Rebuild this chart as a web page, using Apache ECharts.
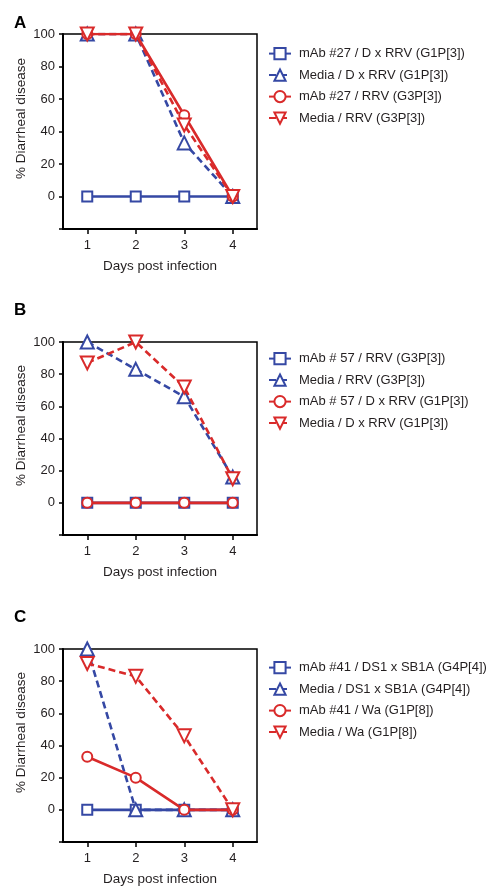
<!DOCTYPE html>
<html>
<head>
<meta charset="utf-8">
<script src="https://cdn.jsdelivr.net/npm/echarts@6/dist/echarts.min.js"></script>
<style>
html,body{margin:0;padding:0;background:#fff;}
#c{width:491px;height:893px;}
</style>
</head>
<body>
<div id="c"></div>
<script>
const days = ['1','2','3','4'];
const yTicks = [-20, 0, 20, 40, 60, 80, 100];

// Panel A
const namesA = ['mAb #27 / D x RRV (G1P[3])','Media / D x RRV (G1P[3])','mAb #27 / RRV (G3P[3])','Media / RRV (G3P[3])'];
const a_mab_dxrrv = [0, 0, 0, 0];
const a_media_dxrrv = [100, 100, 33, 0];
const a_mab_rrv = [100, 100, 50, 0];
const a_media_rrv = [100, 100, 44, 0];

// Panel B
const namesB = ['mAb # 57 / RRV (G3P[3])','Media / RRV (G3P[3])','mAb # 57 / D x RRV (G1P[3])','Media / D x RRV (G1P[3])'];
const b_mab_rrv = [0, 0, 0, 0];
const b_media_rrv = [100, 83, 66, 16];
const b_mab_dxrrv = [0, 0, 0, 0];
const b_media_dxrrv = [87, 100, 72, 15];

// Panel C
const namesC = ['mAb #41 / DS1 x SB1A (G4P[4])','Media / DS1 x SB1A (G4P[4])','mAb #41 / Wa (G1P[8])','Media / Wa (G1P[8])'];
const c_mab_ds1 = [0, 0, 0, 0];
const c_media_ds1 = [100, 0, 0, 0];
const c_mab_wa = [33, 20, 0, 0];
const c_media_wa = [91, 83, 46, 0];

const BLUE = '#3548a4';
const RED = '#d92a2a';
const FONT = 'Liberation Sans';
const TXT = '#231f20';

const panels = [
  {letter:'A', names:namesA, data:[a_mab_dxrrv,a_media_dxrrv,a_mab_rrv,a_media_rrv], top:34, height:195, legendTop:47, letterY:15},
  {letter:'B', names:namesB, data:[b_mab_rrv,b_media_rrv,b_mab_dxrrv,b_media_dxrrv], top:342, height:193, legendTop:352, letterY:302},
  {letter:'C', names:namesC, data:[c_mab_ds1,c_media_ds1,c_mab_wa,c_media_wa], top:649, height:193, legendTop:661, letterY:609}
];

const styles = [
  {color:BLUE, symbol:'emptyRect', rotate:0, dash:'solid', size:10},
  {color:BLUE, symbol:'emptyTriangle', rotate:0, dash:[7,4], size:13},
  {color:RED, symbol:'emptyCircle', rotate:0, dash:'solid', size:10},
  {color:RED, symbol:'emptyTriangle', rotate:180, dash:[7,4], size:13}
];

const grid = [], xAxis = [], yAxis = [], series = [], legend = [], graphic = [];
panels.forEach((p, i) => {
  // trailing spaces keep series names unique per panel (legends match by name)
  const uniq = nm => nm + ' '.repeat(i);
  grid.push({left:63, top:p.top, width:194, height:p.height, show:true, borderColor:'#000', borderWidth:1.5, backgroundColor:'transparent'});
  xAxis.push({
    type:'category', gridIndex:i, data:days, boundaryGap:true,
    name:'Days post infection', nameLocation:'middle', nameGap:30,
    nameTextStyle:{fontFamily:FONT, fontSize:13.5, color:TXT},
    axisLine:{show:true, onZero:false, lineStyle:{color:'#000', width:2}},
    axisTick:{show:true, alignWithLabel:true, length:5, lineStyle:{color:'#000', width:1.5}},
    axisLabel:{fontFamily:FONT, fontSize:13, color:TXT, margin:10},
    splitLine:{show:false}
  });
  yAxis.push({
    type:'value', gridIndex:i, min:yTicks[0], max:yTicks[yTicks.length-1], interval:20,
    name:'% Diarrheal disease', nameLocation:'middle', nameGap:35, nameRotate:90,
    nameTextStyle:{fontFamily:FONT, fontSize:13.5, color:TXT, padding:[0,0,0,26]},
    axisLine:{show:true, lineStyle:{color:'#000', width:2}},
    axisTick:{show:true, length:4, lineStyle:{color:'#000', width:1.5}},
    axisLabel:{fontFamily:FONT, fontSize:13, color:TXT, margin:8, formatter:v => (v < 0 ? '' : String(v))},
    splitLine:{show:false}
  });
  p.names.forEach((nm, k) => {
    const s = styles[k];
    series.push({
      type:'line', name:uniq(nm), xAxisIndex:i, yAxisIndex:i, data:p.data[k],
      symbol:s.symbol, symbolRotate:s.rotate, symbolSize:s.size,
      showAllSymbol:true,
      lineStyle:{color:s.color, width:2.6, type:s.dash},
      itemStyle:{color:s.color, borderColor:s.color, borderWidth:1.8},
      z:2+k, animation:false
    });
  });
  legend.push({
    data:p.names.map(uniq), orient:'vertical', left:268, top:p.legendTop, padding:0,
    itemWidth:22, itemHeight:14, itemGap:8.3,
    textStyle:{fontFamily:FONT, fontSize:13, color:TXT, padding:[0,0,0,3]},
    selectedMode:false
  });
  graphic.push({type:'text', left:14, top:p.letterY, style:{text:p.letter, font:'bold 17px "Liberation Sans"', fill:'#000'}});
});

const chart = echarts.init(document.getElementById('c'), null, {renderer:'canvas'});
chart.setOption({animation:false, backgroundColor:'#fff', grid, xAxis, yAxis, series, legend, graphic});
</script>
</body>
</html>
